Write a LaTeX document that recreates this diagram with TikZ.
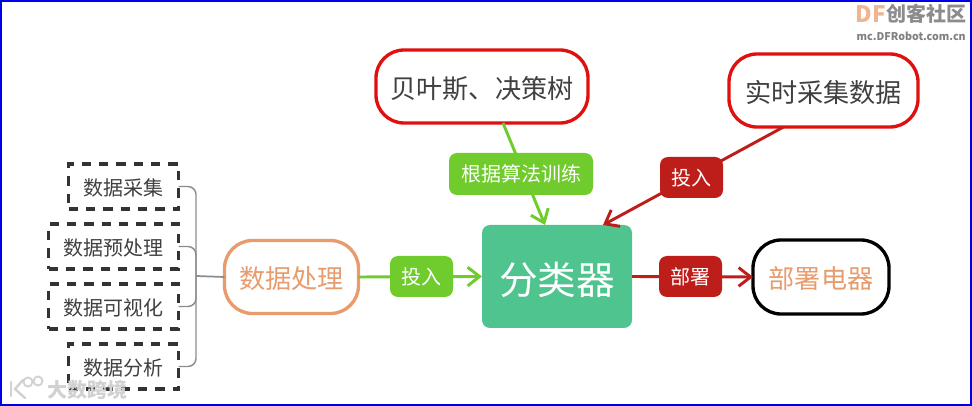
\documentclass[tikz,border=0pt]{standalone}
\usepackage{fontspec}
\setmainfont{Noto Sans CJK SC}
\usetikzlibrary{arrows.meta,calc}
\definecolor{dashink}{HTML}{333333}
\definecolor{textink}{HTML}{404040}
\definecolor{orangeink}{HTML}{E89C6E}
\definecolor{greenink}{HTML}{6FCC2C}
\definecolor{redink}{HTML}{BE1E1A}
\definecolor{tealfill}{HTML}{50C48F}
\definecolor{boxred}{HTML}{E0100F}
\definecolor{framec}{HTML}{0000E6}
\definecolor{bracketc}{HTML}{8C8C8C}
\tikzset{
  pxbox/.style 2 args={minimum width=#1*0.75pt,minimum height=#2*0.75pt,inner sep=0pt,outer sep=0pt,align=center},
  tenpt/.style={font=\fontsize{15pt}{18pt}\selectfont},
  bigpt/.style={font=\fontsize{19.6pt}{23pt}\selectfont,text height=20pt,text depth=2.4pt},
  dashbox/.style={draw=dashink,line width=2.4pt,dash pattern=on 7pt off 6pt,text=textink,tenpt,text height=16pt,text depth=1.8pt},
  mainbox/.style={draw=#1,line width=2.5pt,fill=white,rounded corners=21pt,bigpt},
  labelbox/.style={fill=#1,text=white,rounded corners=6pt,tenpt},
  branch/.style={draw=bracketc,line width=1.1pt,rounded corners=6pt},
  link/.style={draw=#1,line width=2.2pt},
  tip/.style={-{Straight Barb[length=9pt,width=14pt,line width=2.2pt]}},
}
\begin{document}
\begin{tikzpicture}[x=0.75pt,y=-0.75pt]
\useasboundingbox (0,0) rectangle (972,406);
\fill[white] (0,0) rectangle (972,406);
\draw[framec,line width=1.5pt] (1,1) rectangle (971,405);

\node[pxbox={110}{45},dashbox] (d1) at (123.5,186.5) {\hspace*{0.5pt}数据采集};
\node[pxbox={130}{45},dashbox] (d2) at (113.5,246.5) {数据预处理};
\node[pxbox={130}{45},dashbox] (d3) at (113.5,306.5) {数据可视化};
\node[pxbox={110}{45},dashbox] (d4) at (123.5,366.5) {数据分析};

\node[pxbox={134}{73},mainbox=orangeink,text=orangeink] (data) at (291.5,277) {数据处理};
\node[pxbox={150}{103},fill=tealfill,text=white,rounded corners=6pt,font=\fontsize{29pt}{34pt}\selectfont,text height=30pt,text depth=3.4pt] (cls) at (557,276.5) {分类器};
\node[pxbox={212}{73},mainbox=boxred,text=textink] (bayes) at (482,86.5) {贝叶斯、决策树};
\node[pxbox={189}{73},mainbox=boxred,text=textink] (rt) at (823.5,90.5) {实时采集数据};
\node[pxbox={136}{74},mainbox=black,text=orangeink] (dep) at (821,277) {部署电器};

\coordinate (trunk) at (196,276);
\draw[branch] (d1.east) -| (trunk);
\draw[branch] (d2.east) -| (trunk);
\draw[branch] (d3.east) -| (trunk);
\draw[branch] (d4.east) -| (trunk);
\draw[draw=bracketc,line width=1.3pt] (trunk) -- (data.west);

\draw[link=greenink,tip] (data.east) -- (cls.west);
\draw[link=greenink,tip] ($(bayes.south)+(21,0)$) -- ($(cls.north)+(-12,0)$);
\draw[link=redink,tip] ($(rt.south)+(-40,0)$) -- ($(cls.north)+(46,0)$);
\draw[link=redink,tip] (cls.east) -- (dep.west);

\node[pxbox={63}{41},labelbox=greenink] (l1) at (421.5,276.5) {投入};
\node[pxbox={144}{42},labelbox=greenink] (l2) at (521,174) {根据算法训练};
\node[pxbox={63}{41},labelbox=redink] (l3) at (691.5,177.5) {投入};
\node[pxbox={63}{41},labelbox=redink] (l4) at (690.5,276.5) {部署};

% watermarks
\node[inner sep=0pt,anchor=east,text=orangeink!75,font=\fontsize{17pt}{20pt}\selectfont\bfseries] (wm1) at (886,14) {DF};
\node[inner sep=0pt,anchor=west,text=black!45,font=\fontsize{15pt}{18pt}\selectfont\bfseries] (wm2) at (886,14) {创客社区};
\node[inner sep=0pt,anchor=east,text=black!50,font=\fontsize{8pt}{10pt}\selectfont\bfseries] (wm3) at (966,36) {mc.DFRobot.com.cn};
\node[inner sep=0pt,anchor=west,text=black!18,font=\fontsize{15pt}{17pt}\selectfont\bfseries] (wm4) at (47,390) {大数跨境};
\draw[black!18,line width=1.8pt,line cap=round] (11,382) -- (11,396);
\draw[black!18,line width=1.8pt,line cap=round] (23,380) -- (15,389) -- (25,398);
\draw[black!18,line width=1.4pt] (28,382) circle (4.5);
\draw[black!18,line width=1.4pt] (38,381) circle (4.5);
\end{tikzpicture}
\end{document}
